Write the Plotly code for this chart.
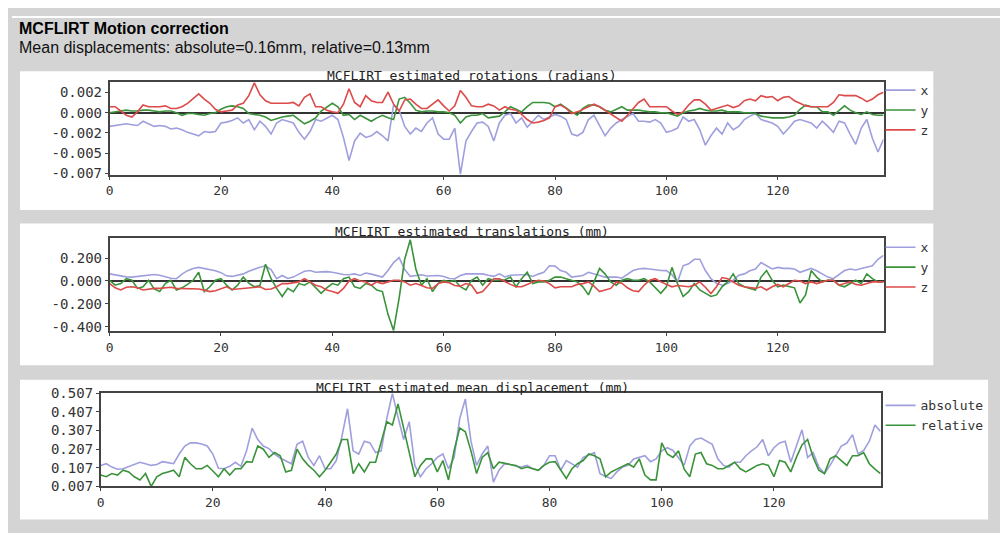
import plotly.graph_objects as go

# ---------------- data ----------------
frames = list(range(140))
x_ticks = [0, 20, 40, 60, 80, 100, 120]

rot_ticks = [0.00237, 0.0, -0.00237, -0.00474, -0.00711]
rot_ticklabels = ["0.002", "0.000", "-0.002", "-0.005", "-0.007"]
trans_ticks = [0.2, 0.0, -0.2, -0.4]
trans_ticklabels = ["0.200", "0.000", "-0.200", "-0.400"]
disp_ticks = [0.007, 0.107, 0.207, 0.307, 0.407, 0.507]
disp_ticklabels = ["0.007", "0.107", "0.207", "0.307", "0.407", "0.507"]

rot_x = [
    -0.0016, -0.0015, -0.0014, -0.0013, -0.0014, -0.0015, -0.0010, -0.0013, -0.0016, -0.0015,
    -0.0016, -0.0019, -0.0018, -0.0020, -0.0023, -0.0025, -0.0027, -0.0022, -0.0023, -0.0022,
    -0.0012, -0.0011, -0.0009, -0.0006, -0.0012, -0.0008, -0.0020, -0.0010, -0.0016, -0.0025,
    -0.0012, -0.0008, -0.0010, -0.0012, -0.0023, -0.0031, -0.0022, -0.0008, -0.0010, -0.0006,
    -0.0003, -0.0008, -0.0029, -0.0056, -0.0033, -0.0024, -0.0029, -0.0027, -0.0022, -0.0027,
    -0.0033, 0.0009, 0.0003, -0.0016, -0.0025, -0.0018, -0.0022, -0.0012, -0.0006, -0.0025,
    -0.0031, -0.0031, -0.0018, -0.0072, -0.0033, -0.0022, -0.0012, -0.0011, -0.0016, -0.0033,
    -0.0012, -0.0003, -0.0001, -0.0012, -0.0006, -0.0017, -0.0010, -0.0003, -0.0008, -0.0005,
    -0.0002, -0.0004, -0.0008, -0.0025, -0.0027, -0.0023, -0.0008, -0.0003, -0.0015, -0.0027,
    -0.0018, -0.0012, -0.0008, -0.0004, -0.0001, -0.0010, -0.0010, -0.0011, -0.0008, -0.0012,
    -0.0023, -0.0021, -0.0018, -0.0005, -0.0010, -0.0008, -0.0020, -0.0038, -0.0027, -0.0018,
    -0.0025, -0.0012, -0.0020, -0.0016, -0.0008, -0.0004, -0.0001, -0.0008, -0.0010, -0.0012,
    -0.0016, -0.0025, -0.0018, -0.0010, -0.0008, -0.0010, -0.0012, -0.0018, -0.0010, -0.0016,
    -0.0023, -0.0010, -0.0012, -0.0025, -0.0037, -0.0018, -0.0008, -0.0030, -0.0046, -0.0031,
]
rot_y = [
    0.0000, 0.0001, 0.0002, 0.0003, 0.0002, 0.0002, 0.0003, 0.0003, 0.0002, 0.0001,
    0.0002, 0.0002, 0.0000, -0.0003, -0.0001, -0.0001, -0.0002, -0.0003, -0.0001, 0.0000,
    0.0004, 0.0007, 0.0008, 0.0007, 0.0005, -0.0001, -0.0002, -0.0003, -0.0005, -0.0009,
    -0.0007, -0.0005, -0.0004, -0.0003, -0.0008, -0.0013, -0.0010, -0.0006, 0.0002, 0.0007,
    0.0011, 0.0007, -0.0003, -0.0002, -0.0008, -0.0003, -0.0007, -0.0010, -0.0006, -0.0003,
    -0.0006, -0.0008, 0.0016, 0.0018, 0.0011, 0.0003, 0.0001, 0.0002, 0.0002, 0.0001,
    0.0001, 0.0000, -0.0003, -0.0012, -0.0005, -0.0003, -0.0003, -0.0001, -0.0006, -0.0005,
    -0.0004, 0.0001, 0.0007, 0.0004, 0.0001, 0.0007, 0.0012, 0.0012, 0.0012, 0.0011,
    0.0007, 0.0010, 0.0005, 0.0001, -0.0003, 0.0005, 0.0009, 0.0009, 0.0007, 0.0003,
    0.0001, 0.0004, 0.0007, 0.0003, 0.0003, 0.0003, 0.0002, 0.0001, 0.0001, 0.0000,
    0.0000, -0.0002, -0.0004, 0.0000, 0.0002, 0.0003, 0.0005, 0.0003, 0.0002, 0.0002,
    0.0003, 0.0001, 0.0001, 0.0001, 0.0000, 0.0000, -0.0001, -0.0004, -0.0005, -0.0006,
    -0.0006, -0.0006, -0.0005, -0.0003, 0.0004, 0.0009, 0.0007, 0.0007, 0.0001, 0.0001,
    -0.0003, 0.0003, 0.0008, 0.0003, 0.0000, -0.0002, 0.0001, -0.0002, -0.0003, -0.0003,
]
rot_z = [
    0.0007, 0.0007, 0.0002, -0.0003, -0.0005, 0.0001, 0.0009, 0.0007, 0.0007, 0.0007,
    0.0008, 0.0005, 0.0005, 0.0007, 0.0011, 0.0017, 0.0022, 0.0016, 0.0011, 0.0004,
    0.0001, 0.0002, 0.0003, 0.0009, 0.0011, 0.0020, 0.0035, 0.0021, 0.0014, 0.0011,
    0.0011, 0.0011, 0.0011, 0.0012, 0.0008, 0.0018, 0.0022, 0.0007, 0.0007, 0.0003,
    0.0001, 0.0000, 0.0010, 0.0028, 0.0012, 0.0007, 0.0020, 0.0014, 0.0012, 0.0012,
    0.0024, 0.0010, 0.0002, 0.0015, 0.0016, 0.0010, 0.0005, 0.0005, 0.0010, 0.0015,
    0.0008, 0.0002, 0.0008, 0.0026, 0.0018, 0.0008, 0.0007, 0.0007, 0.0010, 0.0008,
    0.0003, 0.0007, 0.0004, 0.0003, -0.0002, -0.0008, -0.0012, -0.0011, -0.0009, -0.0006,
    0.0007, 0.0009, 0.0005, -0.0001, 0.0001, 0.0004, 0.0007, 0.0010, 0.0007, 0.0003,
    -0.0002, -0.0006, -0.0010, -0.0003, 0.0004, 0.0012, 0.0016, 0.0007, 0.0007, 0.0007,
    0.0007, 0.0002, -0.0002, 0.0001, 0.0009, 0.0015, 0.0015, 0.0010, 0.0003, 0.0005,
    0.0007, 0.0009, 0.0006, 0.0008, 0.0014, 0.0016, 0.0014, 0.0020, 0.0018, 0.0019,
    0.0014, 0.0018, 0.0019, 0.0014, 0.0011, 0.0008, 0.0007, 0.0007, 0.0007, 0.0007,
    0.0012, 0.0021, 0.0020, 0.0020, 0.0020, 0.0017, 0.0013, 0.0016, 0.0021, 0.0024,
]

trans_x = [
    0.062, 0.054, 0.042, 0.036, 0.034, 0.040, 0.048, 0.055, 0.057, 0.050,
    0.034, 0.024, 0.020, 0.060, 0.090, 0.110, 0.119, 0.110, 0.100, 0.090,
    0.073, 0.045, 0.040, 0.048, 0.062, 0.085, 0.105, 0.120, 0.133, 0.100,
    0.020, 0.048, 0.022, 0.034, 0.060, 0.085, 0.091, 0.076, 0.080, 0.082,
    0.076, 0.065, 0.057, 0.054, 0.062, 0.048, 0.070, 0.060, 0.045, 0.034,
    0.091, 0.161, 0.204, 0.100, 0.040, 0.050, 0.054, 0.044, 0.045, 0.048,
    0.040, 0.022, 0.020, 0.048, 0.062, 0.062, 0.062, 0.062, 0.050, 0.040,
    0.062, 0.035, 0.050, 0.054, 0.054, 0.054, 0.040, 0.060, 0.076, 0.133,
    0.130, 0.091, 0.076, 0.034, 0.040, 0.048, 0.076, 0.062, 0.048, 0.034,
    0.034, 0.034, 0.025, 0.062, 0.091, 0.105, 0.110, 0.105, 0.096, 0.092,
    0.091, 0.055, -0.008, 0.133, 0.150, 0.190, 0.190, 0.091, 0.020, -0.020,
    -0.037, -0.023, 0.006, 0.050, 0.062, 0.090, 0.105, 0.161, 0.133, 0.105,
    0.119, 0.110, 0.110, 0.105, 0.076, 0.091, 0.110, 0.090, 0.060, 0.034,
    0.020, 0.054, 0.091, 0.105, 0.096, 0.110, 0.120, 0.133, 0.190, 0.224,
]
trans_y = [
    0.006, -0.037, -0.023, 0.020, 0.006, -0.065, -0.051, 0.006, -0.070, -0.093,
    -0.023, 0.006, -0.079, -0.060, -0.030, 0.006, 0.076, -0.093, -0.051, 0.006,
    0.020, -0.037, -0.079, -0.037, 0.034, -0.020, -0.051, -0.040, 0.147, 0.020,
    -0.065, -0.136, -0.065, -0.093, -0.023, -0.037, -0.008, -0.060, -0.108, -0.060,
    -0.023, -0.037, 0.020, 0.034, -0.051, -0.065, -0.023, -0.037, -0.079, -0.093,
    -0.292, -0.433, -0.150, 0.190, 0.360, 0.105, -0.037, 0.020, -0.093, -0.023,
    0.006, -0.008, 0.006, -0.050, -0.079, 0.006, 0.034, -0.037, 0.020, 0.006,
    0.006, 0.010, 0.034, -0.051, 0.020, 0.076, -0.023, -0.008, -0.008, 0.006,
    0.034, 0.034, 0.020, 0.006, -0.008, -0.051, -0.122, -0.008, 0.110, 0.060,
    -0.008, -0.037, 0.006, 0.020, 0.006, 0.006, 0.020, -0.008, -0.060, -0.108,
    -0.051, 0.119, -0.023, -0.136, -0.093, -0.023, -0.079, -0.110, -0.136, -0.122,
    -0.051, -0.008, 0.062, -0.023, -0.051, -0.065, -0.079, 0.034, 0.091, 0.006,
    -0.051, -0.037, -0.051, -0.060, -0.193, -0.122, 0.091, 0.034, -0.008, 0.006,
    0.006, -0.037, -0.051, -0.023, 0.006, -0.023, 0.062, 0.020, -0.008, -0.008,
]
trans_z = [
    -0.023, -0.060, -0.079, -0.055, -0.051, -0.060, -0.079, -0.070, -0.065, -0.065,
    -0.058, -0.055, -0.065, -0.065, -0.065, -0.065, -0.070, -0.080, -0.093, -0.085,
    -0.065, -0.051, -0.075, -0.070, -0.065, -0.055, -0.051, -0.051, -0.075, -0.070,
    -0.051, -0.023, -0.023, -0.015, -0.008, 0.020, -0.008, -0.037, -0.051, -0.080,
    -0.093, -0.108, -0.065, 0.000, 0.020, 0.000, -0.008, -0.037, -0.008, -0.023,
    -0.008, 0.006, 0.006, -0.008, -0.037, -0.023, -0.040, -0.060, -0.065, -0.023,
    -0.008, -0.015, -0.040, -0.045, -0.023, -0.037, -0.108, -0.093, -0.037, 0.020,
    0.020, -0.008, -0.030, -0.051, -0.051, -0.030, -0.008, 0.006, 0.000, -0.023,
    -0.060, -0.051, -0.051, -0.051, -0.030, -0.023, -0.008, -0.045, -0.093, -0.080,
    -0.065, -0.008, -0.020, -0.060, -0.085, -0.093, -0.037, 0.006, 0.020, -0.008,
    -0.030, -0.051, -0.040, -0.045, -0.051, -0.037, -0.008, -0.055, -0.110, -0.050,
    0.030, 0.020, -0.008, -0.037, -0.051, -0.060, -0.065, -0.051, -0.079, -0.051,
    -0.030, -0.051, -0.023, 0.006, 0.000, -0.023, -0.008, -0.023, -0.008, 0.006,
    0.006, -0.037, -0.023, -0.008, -0.030, -0.037, -0.023, -0.008, -0.008, -0.008,
]

abs_disp = [
    0.120, 0.129, 0.111, 0.099, 0.102, 0.115, 0.125, 0.137, 0.129, 0.120,
    0.125, 0.140, 0.135, 0.129, 0.181, 0.224, 0.241, 0.241, 0.235, 0.224,
    0.181, 0.105, 0.102, 0.115, 0.137, 0.115, 0.198, 0.320, 0.259, 0.224,
    0.210, 0.180, 0.160, 0.146, 0.129, 0.233, 0.250, 0.163, 0.120, 0.172,
    0.102, 0.102, 0.146, 0.276, 0.424, 0.198, 0.181, 0.250, 0.241, 0.189,
    0.198, 0.372, 0.507, 0.380, 0.259, 0.354, 0.120, 0.059, 0.102, 0.129,
    0.163, 0.181, 0.102, 0.163, 0.372, 0.476, 0.250, 0.120, 0.181, 0.224,
    0.030, 0.094, 0.129, 0.125, 0.115, 0.111, 0.120, 0.102, 0.094, 0.120,
    0.172, 0.172, 0.094, 0.146, 0.129, 0.111, 0.163, 0.175, 0.189, 0.076,
    0.060, 0.050, 0.085, 0.111, 0.120, 0.155, 0.165, 0.172, 0.140, 0.155,
    0.198, 0.215, 0.200, 0.163, 0.120, 0.224, 0.259, 0.267, 0.250, 0.233,
    0.155, 0.120, 0.111, 0.137, 0.137, 0.172, 0.198, 0.220, 0.259, 0.172,
    0.215, 0.241, 0.250, 0.137, 0.224, 0.311, 0.163, 0.189, 0.111, 0.076,
    0.120, 0.172, 0.224, 0.240, 0.285, 0.181, 0.200, 0.250, 0.337, 0.302,
]
rel_disp = [
    0.068, 0.059, 0.076, 0.068, 0.094, 0.085, 0.059, 0.042, 0.076, 0.007,
    0.059, 0.076, 0.085, 0.094, 0.059, 0.163, 0.129, 0.102, 0.102, 0.120,
    0.090, 0.059, 0.102, 0.068, 0.102, 0.102, 0.140, 0.137, 0.224, 0.207,
    0.163, 0.189, 0.172, 0.085, 0.094, 0.207, 0.155, 0.120, 0.094, 0.059,
    0.094, 0.140, 0.181, 0.259, 0.259, 0.076, 0.129, 0.085, 0.137, 0.137,
    0.250, 0.354, 0.337, 0.450, 0.320, 0.181, 0.059, 0.120, 0.155, 0.155,
    0.085, 0.146, 0.042, 0.200, 0.320, 0.300, 0.198, 0.076, 0.163, 0.189,
    0.102, 0.137, 0.129, 0.125, 0.120, 0.102, 0.111, 0.102, 0.094, 0.120,
    0.137, 0.140, 0.094, 0.050, 0.102, 0.129, 0.146, 0.181, 0.172, 0.155,
    0.059, 0.085, 0.100, 0.115, 0.129, 0.111, 0.155, 0.068, 0.042, 0.042,
    0.241, 0.181, 0.163, 0.198, 0.100, 0.059, 0.181, 0.189, 0.129, 0.120,
    0.102, 0.102, 0.120, 0.137, 0.102, 0.085, 0.102, 0.120, 0.129, 0.120,
    0.059, 0.146, 0.137, 0.085, 0.163, 0.230, 0.259, 0.163, 0.094, 0.076,
    0.155, 0.172, 0.146, 0.120, 0.172, 0.172, 0.189, 0.129, 0.100, 0.076,
]

# ---------------- styling ----------------
W, H = 1008, 533
OFF = 8  # the page places the figure 8 px in from the top-left corner


def fx(px):
    return (px - OFF) / W


def fy(py):
    return 1 - (py - OFF) / H


MONO = "DejaVu Sans Mono, monospace"
SANS = "Liberation Sans, Arial, sans-serif"
C_BLUE = "#9f9fde"
C_GREEN = "#3a933a"
C_RED = "#dc4a4a"
AX_COL = "#444444"
TXT_COL = "#333333"

fig = go.Figure()


def add_line(x, y, name, color, ax, leg):
    fig.add_trace(go.Scatter(
        x=x, y=y, name=name, mode="lines",
        line=dict(color=color, width=1.6),
        xaxis="x" + ax, yaxis="y" + ax, legend=leg,
    ))


add_line(frames, rot_x, "x", C_BLUE, "", "legend")
add_line(frames, rot_y, "y", C_GREEN, "", "legend")
add_line(frames, rot_z, "z", C_RED, "", "legend")
add_line(frames, trans_x, "x", C_BLUE, "2", "legend2")
add_line(frames, trans_y, "y", C_GREEN, "2", "legend2")
add_line(frames, trans_z, "z", C_RED, "2", "legend2")
add_line(frames, abs_disp, "absolute", C_BLUE, "3", "legend3")
add_line(frames, rel_disp, "relative", C_GREEN, "3", "legend3")

xtickfont = dict(family=MONO, size=13, color=TXT_COL)
ytickfont = dict(family=MONO, size=14, color=TXT_COL)


def xaxis(dom, anchor):
    return dict(domain=dom, anchor=anchor, range=[0, 139], tickvals=x_ticks,
                showline=True, mirror=True, linecolor=AX_COL, linewidth=1.5,
                ticks="outside", ticklen=3, tickcolor=AX_COL,
                showgrid=False, zeroline=False, tickfont=xtickfont)


def yaxis(dom, anchor, rng, tv, tt, zero):
    return dict(domain=dom, anchor=anchor, range=rng, tickvals=tv, ticktext=tt,
                showline=True, mirror=True, linecolor=AX_COL, linewidth=1.5,
                ticks="outside", ticklen=3, tickcolor=AX_COL,
                showgrid=False, zeroline=zero, zerolinecolor="#333333",
                zerolinewidth=1.5, tickfont=ytickfont)


x12_dom = [fx(106), fx(883)]
x3_dom = [fx(97), fx(880)]

legend_base = dict(xanchor="left", yanchor="top", bgcolor="rgba(0,0,0,0)",
                   font=dict(family=MONO, size=13, color=TXT_COL),
                   itemwidth=30, tracegroupgap=0)

fig.update_layout(
    width=W, height=H, autosize=False,
    margin=dict(l=0, r=0, t=0, b=0),
    paper_bgcolor="#d4d4d4", plot_bgcolor="#ffffff",
    xaxis=xaxis(x12_dom, "y"),
    yaxis=yaxis([fy(172), fy(76)], "x", [-0.0073, 0.0036], rot_ticks, rot_ticklabels, True),
    xaxis2=xaxis(x12_dom, "y2"),
    yaxis2=yaxis([fy(333), fy(237)], "x2", [-0.44, 0.375], trans_ticks, trans_ticklabels, True),
    xaxis3=xaxis(x3_dom, "y3"),
    yaxis3=yaxis([fy(493), fy(397)], "x3", [0.007, 0.507], disp_ticks, disp_ticklabels, False),
    legend=dict(legend_base, x=fx(880), y=fy(69)),
    legend2=dict(legend_base, x=fx(880), y=fy(231)),
    legend3=dict(legend_base, x=fx(880), y=fy(394)),
)

# page decoration: white top strip, white panels
shapes = [
    dict(type="rect", xref="paper", yref="paper", x0=0, x1=1, y0=fy(10), y1=1,
         fillcolor="#ffffff", line=dict(width=0), layer="below"),
    dict(type="rect", xref="paper", yref="paper", x0=fx(16), x1=fx(933), y0=fy(208), y1=fy(65),
         fillcolor="#ffffff", line=dict(width=0), layer="below"),
    dict(type="rect", xref="paper", yref="paper", x0=fx(16), x1=fx(933), y0=fy(368), y1=fy(222),
         fillcolor="#ffffff", line=dict(width=0), layer="below"),
    dict(type="rect", xref="paper", yref="paper", x0=fx(16), x1=fx(988), y0=fy(527), y1=fy(383),
         fillcolor="#ffffff", line=dict(width=0), layer="below"),
]
fig.update_layout(shapes=shapes)

titles = [
    ("MCFLIRT estimated rotations (radians)", 69),
    ("MCFLIRT estimated translations (mm)", 230),
    ("MCFLIRT estimated mean displacement (mm)", 391),
]
annotations = []
for txt, ypx in titles:
    annotations.append(dict(text=txt, xref="paper", yref="paper", x=fx(470), y=fy(ypx),
                            xanchor="center", yanchor="middle", showarrow=False,
                            font=dict(family=MONO, size=13, color="#222222")))
annotations.append(dict(text="<b>MCFLIRT Motion correction</b>", xref="paper", yref="paper",
                        x=fx(13), y=fy(21), xanchor="left", yanchor="middle", showarrow=False,
                        font=dict(family=SANS, size=16, color="#000000")))
annotations.append(dict(text="Mean displacements: absolute=0.16mm, relative=0.13mm",
                        xref="paper", yref="paper", x=fx(13), y=fy(40),
                        xanchor="left", yanchor="middle", showarrow=False,
                        font=dict(family=SANS, size=16, color="#111111")))
fig.update_layout(annotations=annotations)

fig.write_html("out.html")
